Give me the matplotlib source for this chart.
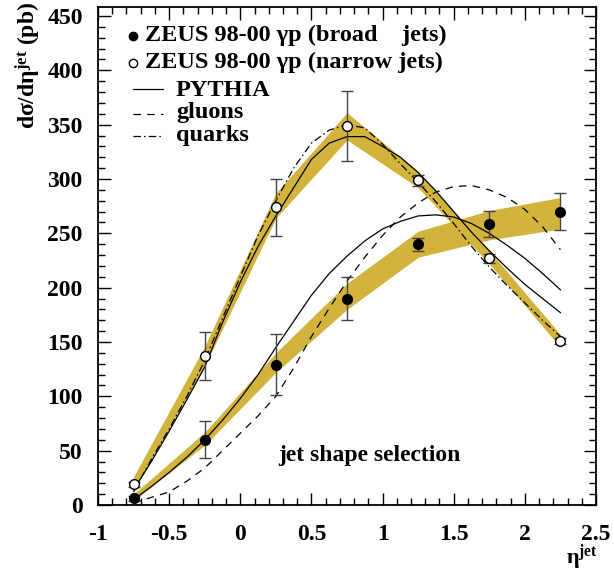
import matplotlib
matplotlib.use('Agg')
import matplotlib.pyplot as plt
from matplotlib.ticker import MultipleLocator

plt.rcParams['font.family'] = ['Liberation Serif', 'DejaVu Serif']
plt.rcParams['font.weight'] = 'bold'
plt.rcParams['mathtext.fontset'] = 'custom'
plt.rcParams['mathtext.rm'] = 'Liberation Serif:bold'
plt.rcParams['mathtext.bf'] = 'Liberation Serif:bold'
plt.rcParams['mathtext.it'] = 'Liberation Serif:italic:bold'

# ---- data ----
eta_bins = [-0.75, -0.25, 0.25, 0.75, 1.25, 1.75, 2.25]
broad = [6, 60, 129, 190, 240, 259, 270]
broad_err = [2, 17, 28, 20, 6, 12, 17]
narrow = [19, 137, 274, 349, 299, 227, 151]
narrow_err = [2, 22, 26, 32, 5, 4, 3]
broad_band_lo = [4, 55, 122, 180, 228, 244, 254]
broad_band_hi = [10, 67, 140, 204, 252, 271, 283]
narrow_band_lo = [14, 128, 264, 336, 292, 222, 145]
narrow_band_hi = [26, 146, 287, 361, 307, 234, 157]

curve_eta = [-0.75, -0.625, -0.5, -0.375, -0.25, -0.125, 0.0, 0.125, 0.25,
             0.375, 0.5, 0.625, 0.75, 0.875, 1.0, 1.125, 1.25, 1.375, 1.5,
             1.625, 1.75, 1.875, 2.0, 2.125, 2.25]
pythia_broad = [5, 17, 30, 44, 60, 78, 98, 120, 145, 169, 193, 213, 229, 243,
                254, 261, 266, 267, 265, 259, 250, 239, 227, 213, 198]
gluons = [2, 7, 12, 22, 34, 50, 66, 82, 100, 126, 155, 181, 206, 228, 248,
          265, 278, 288, 293, 294, 290, 283, 272, 256, 235]
pythia_narrow = [14, 40, 68, 97, 127, 168, 205, 238, 266, 292, 318, 333, 339,
                 339, 330, 320, 306, 289, 270, 251, 234, 218, 203, 190, 177]
quarks = [12, 42, 70, 100, 133, 172, 210, 248, 280, 310, 333, 345, 350, 347,
          332, 314, 297, 279, 259, 238, 219, 202, 186, 170, 155]

band_color = '#d2b43c'
fs = 17

fig = plt.figure(figsize=(6.14, 5.73), dpi=100)
ax = fig.add_axes([98/614, 1-505/573, 498/614, (505-7.3)/573])
ax.set_xlim(-1, 2.5)
ax.set_ylim(0, 458)

ax.fill_between(eta_bins, narrow_band_lo, narrow_band_hi, color=band_color, lw=0, zorder=1)
ax.fill_between(eta_bins, broad_band_lo, broad_band_hi, color=band_color, lw=0, zorder=1)

ax.plot(curve_eta, pythia_broad, color='black', lw=0.9, zorder=2)
ax.plot(curve_eta, pythia_narrow, color='black', lw=0.9, zorder=2)
ax.plot(curve_eta, gluons, color='black', lw=0.9, ls=(0, (6, 5)), zorder=2)
ax.plot(curve_eta, quarks, color='black', lw=0.9, ls=(0, (6, 2.5, 1.2, 2.5)), zorder=2)

ax.errorbar(eta_bins, broad, yerr=broad_err, fmt='o', color='black', ms=7,
            ecolor='#444444', elinewidth=1, capsize=4, capthick=1, zorder=4)
ax.errorbar(eta_bins, narrow, yerr=narrow_err, fmt='o', mfc='white', mec='black',
            mew=1, ms=7, ecolor='#444444', elinewidth=1, capsize=4, capthick=1, zorder=4)

# legend (manual)
ax.plot([-0.752], [432], 'o', color='black', ms=6, clip_on=False)
ax.plot([-0.752], [407], 'o', mfc='white', mec='black', mew=1, ms=6, clip_on=False)
ax.text(-0.668, 432, 'ZEUS 98-00 γp (broad    jets)', fontsize=17.5, va='center', ha='left')
ax.text(-0.668, 407, 'ZEUS 98-00 γp (narrow jets)', fontsize=17.5, va='center', ha='left')
ax.plot([-0.752, -0.541], [383, 383], color='black', lw=0.9)
ax.plot([-0.752, -0.541], [360, 360], color='black', lw=0.9, ls=(0, (6, 5)))
ax.plot([-0.752, -0.541], [340, 340], color='black', lw=0.9, ls=(0, (6, 2.5, 1.2, 2.5)))
ax.text(-0.452, 381, 'PYTHIA', fontsize=17.5, va='center', ha='left')
ax.text(-0.452, 361, 'gluons', fontsize=17.5, va='center', ha='left')
ax.text(-0.452, 340, 'quarks', fontsize=17.5, va='center', ha='left')

ax.text(0.904, 46, 'jet shape selection', fontsize=fs, va='center', ha='center')

# axes styling
ax.xaxis.set_major_locator(MultipleLocator(0.5))
ax.xaxis.set_minor_locator(MultipleLocator(0.1))
ax.yaxis.set_major_locator(MultipleLocator(50))
ax.yaxis.set_minor_locator(MultipleLocator(10))
ax.tick_params(which='both', direction='in', top=True, right=True, width=1)
ax.tick_params(which='major', length=9)
ax.tick_params(which='minor', length=5)
ax.tick_params(axis='x', which='major', pad=14, labelsize=fs)
ax.tick_params(axis='y', which='major', pad=11, labelsize=fs)
ax.set_xticks([-1, -0.5, 0, 0.5, 1, 1.5, 2, 2.5])
ax.set_xticklabels(['-1', '-0.5', '0', '0.5', '1', '1.5', '2', '2.5'])
for s in ax.spines.values():
    s.set_linewidth(1.3)

fig.text(28/614, 1-2/573, 'dσ/dη$^{\\mathbf{jet}}$ (pb)', rotation=90, fontsize=fs,
         ha='center', va='top')
fig.text(598/614, 1-564/573, 'η$^{\\mathbf{jet}}$', fontsize=16, ha='right', va='baseline')

fig.savefig('out.png', dpi=100)
